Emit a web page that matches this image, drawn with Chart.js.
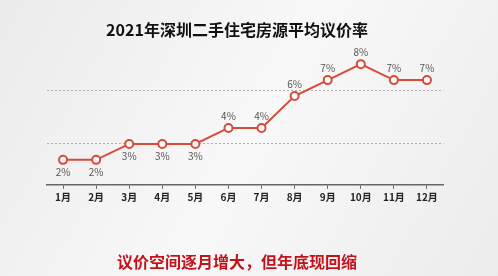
<!DOCTYPE html>
<html>
<head>
<meta charset="utf-8">
<script src="https://cdn.jsdelivr.net/npm/chart.js@4.4.1/dist/chart.umd.min.js"></script>
<style>
  html, body { margin: 0; padding: 0; background: #f3f3f3; }
  #wrap { width: 498px; height: 276px; position: relative; }
</style>
</head>
<body>
<div id="wrap"><canvas id="graphique-taux"></canvas></div>
<script>
const mois = ["1月", "2月", "3月", "4月", "5月", "6月", "7月", "8月", "9月", "10月", "11月", "12月"];
const taux = [2, 2, 3, 3, 3, 4, 4, 6, 7, 8, 7, 7];
const etiquettes = ["2%", "2%", "3%", "3%", "3%", "4%", "4%", "6%", "7%", "8%", "7%", "7%"];
// libellé sous le point pour les 5 premiers mois
const sousLePoint = [true, true, true, true, true, false, false, false, false, false, false, false];
const lignesGrille = [3, 6.35];

const titre = "2021年深圳二手住宅房源平均议价率";
const sousTitre = "议价空间逐月增大，但年底现回缩";

const rouge = "#d94a38";
const police = "'Noto Sans CJK SC', 'Noto Sans', sans-serif";

// fond gris clair
const fond = {
  id: "fond",
  beforeDraw(chart) {
    const ctx = chart.ctx;
    const g = ctx.createLinearGradient(0, 0, chart.width, chart.height);
    g.addColorStop(0, "#ebebeb");
    g.addColorStop(0.5, "#f8f8f8");
    g.addColorStop(1, "#ececec");
    ctx.save();
    ctx.fillStyle = g;
    ctx.fillRect(0, 0, chart.width, chart.height);
    ctx.restore();
  }
};

// valeurs au-dessus / au-dessous des points
const libelles = {
  id: "libelles",
  afterDatasetsDraw(chart) {
    const ctx = chart.ctx;
    const meta = chart.getDatasetMeta(0);
    ctx.save();
    ctx.font = "10px " + police;
    ctx.fillStyle = "#555";
    ctx.textAlign = "center";
    ctx.textBaseline = "middle";
    for (let i = 0; i < meta.data.length; i++) {
      const pt = meta.data[i];
      const dy = sousLePoint[i] ? 12 : -12;
      ctx.fillText(etiquettes[i], pt.x, pt.y + dy);
    }
    ctx.restore();
  }
};

const data = {
  labels: mois,
  datasets: [{
    data: taux,
    borderColor: rouge,
    borderWidth: 2,
    backgroundColor: "#fff",
    pointRadius: 4,
    pointBorderWidth: 2,
    pointBorderColor: rouge,
    pointBackgroundColor: "#fff",
    tension: 0,
  }],
};

const config = {
  type: "line",
  data: data,
  options: {
    responsive: false,
    animation: false,
    layout: { padding: { left: 30.5, right: 54.5, top: 20, bottom: 3 } },
    plugins: {
      legend: { display: false },
      tooltip: { enabled: false },
      title: {
        display: true,
        text: titre,
        color: "#111",
        font: { family: police, size: 16, weight: "bold" },
        padding: { top: 0, bottom: 1 },
      },
      subtitle: {
        display: true,
        position: "bottom",
        text: sousTitre,
        color: "#c3121b",
        font: { family: police, size: 16, weight: "bold" },
        padding: { top: 48, bottom: 1 },
      },
    },
    scales: {
      x: {
        offset: true,
        grid: {
          offset: false,
          drawOnChartArea: false,
          drawTicks: true,
          tickLength: 4,
          color: "#666",
        },
        border: { display: true, color: "#666", width: 1.5 },
        ticks: {
          color: "#222",
          font: { family: police, size: 10, weight: "bold" },
          padding: 2,
          maxRotation: 0,
          autoSkip: false,
        },
      },
      y: {
        min: 0.4375,
        max: 9.5,
        afterFit(scale) { scale.width = 16; },
        afterBuildTicks(scale) {
          scale.ticks = lignesGrille.map(v => ({ value: v }));
        },
        grid: {
          drawTicks: false,
          color: "#b0b0b0",
          lineWidth: 1,
        },
        border: { display: false, dash: [2, 2] },
        ticks: { display: false },
      },
    },
  },
  plugins: [fond, libelles],
};

const canvas = document.querySelector("#graphique-taux");
canvas.width = 498;
canvas.height = 276;
const graphique = new Chart(canvas, config);
</script>
</body>
</html>
